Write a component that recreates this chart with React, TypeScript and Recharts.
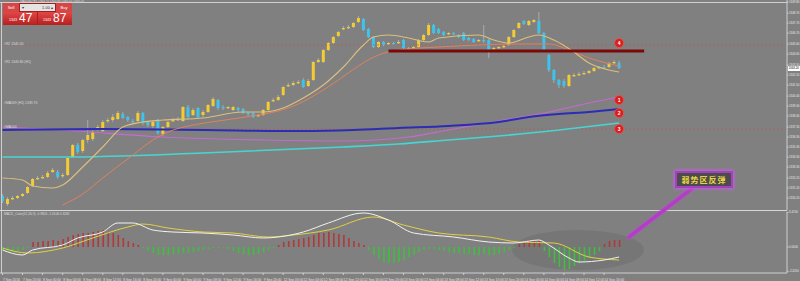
import React from 'react';
import { ComposedChart, Bar, Line, XAxis, YAxis, ReferenceLine, ReferenceDot } from 'recharts';

// ---- candle data (XAUUSD H1) ----
const opens = [1330.4,1329.6,1330.1,1330.2,1330.4,1330.7,1331.4,1332.1,1332.2,1332.3,
1332.8,1332.8,1332.4,1332.5,1334.3,1335.5,1334.9,1336.0,1336.1,1337.1,
1336.9,1337.9,1338.0,1338.1,1338.6,1338.3,1337.9,1337.9,1338.7,1337.8,
1337.4,1338.0,1336.6,1337.3,1337.9,1338.0,1337.9,1339.3,1338.5,1339.2,
1338.5,1338.8,1339.4,1340.0,1339.3,1339.2,1339.0,1339.2,1339.1,1338.7,
1338.7,1338.4,1338.5,1339.0,1339.9,1340.0,1340.5,1341.4,1341.5,1341.7,
1342.0,1341.4,1342.0,1343.8,1343.8,1345.0,1345.7,1346.4,1347.1,1347.2,
1347.3,1347.8,1348.1,1347.1,1346.3,1345.3,1345.8,1345.6,1345.7,1345.7,
1346.0,1345.2,1345.2,1345.3,1346.0,1346.5,1347.5,1347.1,1346.8,1346.6,
1346.7,1346.5,1346.7,1346.2,1346.1,1345.9,1346.0,1346.0,1345.1,1345.2,
1345.3,1345.5,1346.3,1347.2,1347.9,1347.5,1347.8,1347.9,1346.7,1344.5,
1343.0,1342.0,1341.9,1341.4,1342.4,1342.5,1342.6,1342.7,1342.9,1343.2,
1343.3,1343.3,1343.7,1343.7];
const closes = [1329.9,1330.1,1330.2,1330.4,1330.6,1331.3,1332.1,1332.2,1332.3,1332.7,
1333.0,1332.3,1332.5,1334.2,1335.5,1334.8,1336.0,1336.5,1336.8,1337.3,
1337.8,1338.0,1338.3,1338.7,1338.2,1338.0,1337.8,1338.7,1337.7,1337.5,
1337.8,1336.7,1337.3,1337.8,1338.0,1338.1,1339.3,1338.3,1339.0,1338.3,
1338.8,1339.5,1340.1,1339.2,1339.2,1339.3,1339.3,1339.0,1338.7,1338.6,
1338.3,1338.5,1339.0,1339.8,1340.0,1340.3,1341.3,1341.5,1341.7,1341.8,
1341.3,1341.9,1343.8,1344.0,1345.0,1345.7,1346.3,1346.8,1347.2,1347.3,
1347.7,1348.2,1347.0,1346.3,1345.3,1345.8,1345.5,1345.7,1345.6,1345.8,
1345.2,1345.1,1345.3,1346.0,1346.5,1347.5,1346.7,1346.7,1346.5,1346.7,
1346.6,1346.3,1346.0,1346.0,1345.8,1346.0,1345.9,1345.0,1345.2,1345.3,
1345.4,1346.3,1347.0,1347.7,1347.6,1347.9,1348.0,1346.7,1345.0,1343.0,
1342.0,1341.5,1341.4,1342.5,1342.5,1342.6,1342.7,1342.9,1343.2,1343.3,
1343.2,1343.7,1343.8,1343.2];
const highs = [1330.6,1330.3,1330.4,1330.5,1330.7,1331.4,1332.2,1332.4,1332.5,1332.9,
1333.2,1333.0,1332.7,1334.3,1335.6,1335.7,1336.1,1338.0,1337.0,1337.5,
1338.0,1338.2,1338.6,1338.9,1338.8,1338.4,1338.1,1338.9,1338.8,1337.9,
1338.0,1338.1,1337.4,1337.9,1338.2,1338.3,1339.4,1339.5,1339.2,1339.3,
1339.0,1339.6,1340.3,1340.1,1339.5,1339.4,1339.4,1339.3,1339.2,1338.8,
1338.8,1338.6,1339.1,1339.9,1340.2,1340.5,1341.4,1341.7,1341.9,1342.0,
1342.2,1342.1,1343.9,1344.2,1345.1,1345.8,1346.4,1346.9,1347.4,1347.5,
1347.8,1348.4,1348.2,1347.2,1346.4,1345.9,1345.9,1345.8,1345.8,1346.0,
1346.1,1345.3,1345.4,1346.1,1346.6,1347.7,1347.6,1347.2,1346.9,1346.8,
1346.8,1346.6,1346.8,1346.3,1346.2,1346.1,1347.5,1346.1,1345.3,1345.4,
1345.5,1346.4,1347.1,1347.8,1348.0,1348.0,1348.1,1348.8,1346.8,1344.6,
1343.1,1342.1,1342.1,1342.6,1342.7,1342.8,1342.9,1343.0,1343.3,1343.4,
1343.5,1343.8,1344.0,1343.9];
const lows = [1329.7,1329.4,1330.0,1330.1,1330.3,1330.6,1331.3,1332.0,1332.1,1332.2,
1332.7,1332.1,1332.2,1332.4,1334.2,1334.6,1334.7,1335.7,1335.9,1336.9,
1336.8,1337.7,1337.8,1338.0,1338.1,1337.8,1337.6,1337.8,1337.5,1337.3,
1337.2,1336.5,1336.4,1337.2,1337.8,1337.9,1337.8,1338.1,1338.4,1338.1,
1338.3,1338.7,1339.3,1339.0,1339.0,1339.1,1338.9,1338.8,1338.6,1338.4,
1338.2,1338.3,1338.4,1338.9,1339.8,1339.9,1340.4,1341.3,1341.4,1341.6,
1341.2,1341.3,1341.9,1343.7,1343.7,1344.9,1345.6,1346.3,1347.0,1347.1,
1347.2,1347.7,1346.9,1346.2,1345.2,1345.2,1345.4,1345.5,1345.5,1345.6,
1345.1,1345.0,1345.1,1345.2,1345.9,1346.4,1346.6,1346.6,1346.4,1346.5,
1346.5,1346.2,1345.9,1345.9,1345.7,1345.8,1345.7,1344.2,1345.0,1345.1,
1345.2,1345.4,1346.2,1347.1,1347.5,1347.4,1347.7,1346.6,1344.8,1342.8,
1341.7,1341.2,1341.2,1341.3,1342.3,1342.4,1342.5,1342.6,1342.8,1343.1,
1343.1,1343.2,1343.6,1343.1];

// ---- moving averages: [bar index, value] ----
const maFast: [number, number][] = [[0,1332.2],[4,1332.0],[6,1331.4],[10,1331.2],[12,1331.5],[16,1333.3],[20,1335.3],[24,1337.3],[28,1337.8],[32,1338.0],[40,1338.2],[48,1338.8],[52,1338.8],[56,1339.2],[60,1340.2],[64,1341.5],[68,1343.3],[72,1345.5],[74,1346.3],[77,1346.5],[81,1346.2],[85,1345.8],[87,1346.2],[95,1346.5],[98,1346.0],[101,1345.7],[105,1346.3],[107,1346.5],[110,1346.0],[114,1344.8],[117,1343.7],[121,1343.0],[123,1342.8]];
const maMid: [number, number][] = [[12,1329.5],[16,1330.6],[20,1332.2],[26,1334.5],[30,1336.0],[33,1336.8],[38,1337.5],[43,1337.9],[51,1338.5],[55,1338.9],[59,1339.6],[63,1340.7],[67,1342.0],[71,1343.4],[75,1344.5],[79,1345.0],[87,1345.3],[95,1345.5],[103,1345.6],[109,1345.6],[113,1345.0],[117,1344.2],[123,1343.4]];
const maMagenta: [number, number][] = [[0,1337.3],[12,1337.0],[32,1336.3],[52,1336.0],[68,1335.9],[81,1336.3],[89,1337.0],[99,1337.9],[109,1338.8],[117,1339.7],[123,1340.3]];
const maBlue: [number, number][] = [[0,1337.0],[20,1337.1],[40,1337.0],[60,1336.9],[70,1337.0],[79,1337.2],[89,1337.4],[99,1337.8],[105,1338.3],[111,1338.6],[117,1338.8],[123,1339.1]];
const maCyan: [number, number][] = [[0,1334.3],[12,1334.3],[40,1334.7],[68,1335.3],[79,1335.6],[89,1336.0],[99,1336.4],[111,1337.0],[123,1337.7]];

// ---- MACD panel ----
const histogram = [-0.3,-0.4,-0.5,-0.4,-0.3,-0.1,
0.5,0.5,0.6,0.6,0.7,0.6,0.8,1.0,1.2,1.3,1.4,1.4,1.5,1.6,1.7,1.5,1.4,1.2,0.9,0.6,0.4,0.2,
-0.1,-0.4,-0.6,-0.8,-0.8,-0.8,-0.7,-0.7,-0.6,-0.6,-0.5,-0.4,-0.3,-0.2,-0.1,-0.1,-0.1,
-0.2,-0.4,-0.6,-0.7,-0.8,-0.8,-0.7,-0.5,-0.3,-0.1,
0.2,0.5,0.6,0.7,0.8,0.9,1.0,1.2,1.4,1.4,1.5,1.4,1.3,1.2,0.9,0.6,0.4,0.2,
-0.3,-0.8,-1.2,-1.5,-1.6,-1.6,-1.5,-1.3,-1.0,-0.8,-0.5,-0.3,-0.2,
-0.2,-0.3,-0.4,-0.5,-0.6,-0.6,-0.7,-0.7,-0.8,-0.8,-0.7,-0.8,-0.8,-0.7,-0.5,-0.3,-0.1,
0.3,0.5,0.7,0.7,0.6,
-0.4,-1.0,-1.6,-2.0,-2.3,-2.2,-1.9,
-1.6,-1.4,-1.1,-0.8,-0.4,
0.3,0.6,0.7,0.7];
const macdLine: [number, number][] = [[0,-0.3],[4,-0.8],[6,-0.3],[12,0.2],[15,0.9],[20,1.5],[23,2.4],[26,2.4],[30,1.7],[34,1.5],[40,1.4],[46,1.2],[52,0.9],[55,1.0],[60,1.5],[65,2.4],[72,3.4],[77,2.7],[82,1.4],[90,1.0],[97,0.5],[102,0.4],[107,0.7],[109,0.2],[113,-1.1],[115,-1.5],[120,-1.3],[123,-1.0]];
const signalLine: [number, number][] = [[0,-0.1],[5,-0.6],[12,-0.1],[18,0.9],[25,2.0],[28,2.3],[33,1.9],[40,1.5],[46,1.4],[53,1.0],[58,1.2],[65,1.7],[74,3.0],[80,2.2],[87,1.4],[97,1.0],[103,0.5],[110,0.4],[117,-1.0],[123,-1.3]];

// ---- axis ticks / labels ----
const priceTicks = [1349.8,1348.7,1347.7,1346.7,1345.6,1344.6,1343.5,1342.5,1341.5,1340.4,1339.4,1338.4,1337.3,1336.3,1335.3,1334.3,1333.3,1332.2,1331.2,1330.2];
const macdTicks = [3.47, 0, -2.42];
const dateTickIdx = [0,4,8,12,16,20,24,28,32,36,40,44,48,52,56,60,64,68,72,76,80,84,88,92,96,100,104,108,112,116,120];
const dateTickText = ['7 Sep 2016','7 Sep 20:00','8 Sep 00:00','8 Sep 04:00','8 Sep 08:00','8 Sep 12:00','8 Sep 16:00','8 Sep 20:00','9 Sep 00:00','9 Sep 04:00','9 Sep 08:00','9 Sep 12:00','9 Sep 16:00','9 Sep 20:00','12 Sep 00:00','12 Sep 04:00','12 Sep 08:00','12 Sep 12:00','12 Sep 16:00','12 Sep 20:00','13 Sep 00:00','13 Sep 04:00','13 Sep 08:00','13 Sep 12:00','13 Sep 16:00','13 Sep 20:00','14 Sep 00:00','14 Sep 04:00','14 Sep 08:00','14 Sep 12:00','14 Sep 16:00'];
const levelMarkers: { label: string; value: number }[] = [
  { label: '4', value: 1345.7 },
  { label: '1', value: 1340.0 },
  { label: '2', value: 1338.7 },
  { label: '3', value: 1337.1 },
];
const dottedLevels = [1345.5, 1337.1];
const resistance = { from: 77, to: 128, value: 1344.9 };
const sideLabels: { text: string; value: number }[] = [
  { text: '#R2 1345.50', value: 1345.6 },
  { text: '#R1 1343.80 (H1)', value: 1343.8 },
  { text: '#MA169 (H1) 1339.70', value: 1339.7 },
  { text: '#MA144', value: 1337.3 },
];

const SLOTS = 157;
const BULL = '#f2cc30';
const BEAR = '#3cc4ec';
const WICK = '#a9b6c8';
const FONT = '"Liberation Sans", "DejaVu Sans", sans-serif';

const pick = (pairs: [number, number][], i: number): number | null => {
  const p = pairs.find((q) => q[0] === i);
  return p ? p[1] : null;
};

const data = Array.from({ length: SLOTS }, (_, i) => {
  const has = i < opens.length;
  return {
    i,
    o: has ? opens[i] : null,
    c: has ? closes[i] : null,
    h: has ? highs[i] : null,
    l: has ? lows[i] : null,
    range: has ? [lows[i], highs[i]] : null,
    maFast: pick(maFast, i),
    maMid: pick(maMid, i),
    maMagenta: pick(maMagenta, i),
    maBlue: pick(maBlue, i),
    maCyan: pick(maCyan, i),
    hist: has ? histogram[i] : null,
    macd: pick(macdLine, i),
    sig: pick(signalLine, i),
  };
});

const NoDot = () => <g />;

const Candle = (props: any) => {
  const { x, y, width, height, payload } = props;
  if (!payload || payload.o == null) return <g />;
  const top = height < 0 ? y + height : y;
  const full = Math.abs(height);
  const { o, c, h, l } = payload;
  const k = full / (h - l);
  const bodyTop = top + (h - Math.max(o, c)) * k;
  const bodyH = Math.max(Math.abs(o - c) * k, 1.3);
  const cx = x + width / 2;
  return (
    <g>
      <line x1={cx} x2={cx} y1={top} y2={top + full} stroke={WICK} strokeWidth={0.8} />
      <rect x={cx - 1.5} y={bodyTop} width={3} height={bodyH} fill={c >= o ? BULL : BEAR} />
    </g>
  );
};

const HistBar = (props: any) => {
  const { x, y, width, height, payload } = props;
  if (!payload || payload.hist == null) return <g />;
  const top = height < 0 ? y + height : y;
  const col = payload.hist >= 0 ? '#b03a3a' : '#3fbf3f';
  return <rect x={x + width / 2 - 0.8} y={top} width={1.6} height={Math.abs(height)} fill={col} />;
};

const DateTick = (props: any) => {
  const { x, y, payload } = props;
  const k = dateTickIdx.indexOf(payload.value);
  if (k < 0) return <g />;
  return (
    <text x={x + 0.5} y={y + 3.5} fontSize={3.3} fill="#e4e4e4" fontFamily={FONT} textAnchor="start">
      {dateTickText[k]}
    </text>
  );
};

const MarkerLabel = (text: string) => (p: any) => {
  const vb = p.viewBox || {};
  const cx = vb.x + (vb.width || 0) / 2;
  const cy = vb.y + (vb.height || 0) / 2;
  return (
    <text x={cx} y={cy + 1.8} fontSize={5} fontWeight="bold" fill="#ffffff" textAnchor="middle" fontFamily={FONT}>
      {text}
    </text>
  );
};

const lineCommon = { type: 'monotone' as const, dot: NoDot, activeDot: false, connectNulls: true, isAnimationActive: false };

export default function App() {
  const lastClose = closes[closes.length - 1];
  return (
    <div style={{ position: 'absolute', left: 0, top: 0, width: 800, height: 281, background: '#808080', overflow: 'hidden', fontFamily: FONT }}>
      {/* background decorations (behind charts) */}
      <svg width={800} height={281} style={{ position: 'absolute', left: 0, top: 0 }}>
        <ellipse cx={578} cy={250} rx={66} ry={20} fill="#727272" opacity={0.7} />
      </svg>

      {/* main price chart */}
      <div style={{ position: 'absolute', left: 0, top: 0 }}>
        <ComposedChart width={800} height={210} data={data} margin={{ top: 0, right: 0, bottom: 0, left: 0 }}>
          <XAxis dataKey="i" type="category" hide />
          <YAxis
            orientation="right"
            width={13}
            domain={[1329, 1350]}
            allowDataOverflow
            ticks={priceTicks}
            interval={0}
            tickSize={1.5}
            tickMargin={0.5}
            axisLine={{ stroke: '#cfcfcf' }}
            tickLine={{ stroke: '#cfcfcf' }}
            tick={{ fontSize: 2.9, fill: '#e8e8e8', fontFamily: FONT }}
            tickFormatter={(v: number) => v.toFixed(2)}
          />
          {dottedLevels.map((v) => (
            <ReferenceLine key={v} y={v} stroke="#b45a5a" strokeWidth={0.7} strokeDasharray="2 2" ifOverflow="visible" />
          ))}
          <Line dataKey="maCyan" stroke="#46d6d2" strokeWidth={1.6} {...lineCommon} />
          <Line dataKey="maMagenta" stroke="#c46ad2" strokeWidth={1.2} {...lineCommon} />
          <Line dataKey="maBlue" stroke="#2c2cb4" strokeWidth={2} {...lineCommon} />
          <Line dataKey="maMid" stroke="#e0805e" strokeWidth={1} {...lineCommon} />
          <Line dataKey="maFast" stroke="#dcbf7c" strokeWidth={1.1} {...lineCommon} />
          <Bar dataKey="range" barSize={3} shape={<Candle />} isAnimationActive={false} />
          <ReferenceLine
            segment={[{ x: resistance.from, y: resistance.value }, { x: resistance.to, y: resistance.value }]}
            stroke="#7c0808"
            strokeWidth={3}
            ifOverflow="visible"
          />
          {levelMarkers.map((m) => (
            <ReferenceDot key={m.label} x={123} y={m.value} r={4.5} fill="#d42020" stroke="#f05050" strokeWidth={0.8} ifOverflow="visible" label={MarkerLabel(m.label)} />
          ))}
        </ComposedChart>
      </div>

      {/* MACD panel */}
      <div style={{ position: 'absolute', left: 0, top: 210 }}>
        <ComposedChart width={800} height={71} data={data} margin={{ top: 2, right: 0, bottom: 0, left: 0 }}>
          <XAxis
            dataKey="i"
            type="category"
            height={8}
            ticks={dateTickIdx}
            interval={0}
            tickSize={2}
            axisLine={{ stroke: '#cfcfcf' }}
            tickLine={{ stroke: '#cfcfcf' }}
            tick={<DateTick />}
          />
          <YAxis
            orientation="right"
            width={13}
            domain={[-2.6, 3.5]}
            allowDataOverflow
            ticks={macdTicks}
            interval={0}
            tickSize={1.5}
            tickMargin={0.5}
            axisLine={{ stroke: '#cfcfcf' }}
            tickLine={{ stroke: '#cfcfcf' }}
            tick={{ fontSize: 2.9, fill: '#e8e8e8', fontFamily: FONT }}
            tickFormatter={(v: number) => v.toFixed(4)}
          />
          <Bar dataKey="hist" barSize={2} shape={<HistBar />} isAnimationActive={false} />
          <Line dataKey="sig" stroke="#e2d040" strokeWidth={1} {...lineCommon} />
          <Line dataKey="macd" stroke="#f2f2f2" strokeWidth={1} {...lineCommon} />
        </ComposedChart>
      </div>

      {/* frame lines, texts and annotation drawing on top */}
      <svg width={800} height={281} style={{ position: 'absolute', left: 0, top: 0, pointerEvents: 'none' }}>
        <line x1={0} x2={787} y1={2.5} y2={2.5} stroke="#cfcfcf" strokeWidth={1} />
        <line x1={1.5} x2={1.5} y1={2} y2={273} stroke="#cfcfcf" strokeWidth={1} />
        <line x1={0} x2={787} y1={210.5} y2={210.5} stroke="#d6d6d6" strokeWidth={1.2} />
        <text x={20} y={1.9} fontSize={3} fill="#dddddd" fontFamily={FONT}>XAUUSD,H1  1343.70 1343.90 1343.10 1343.20</text>
        {sideLabels.map((s) => (
          <text key={s.text} x={4} y={(1350 - s.value) * 10 + 1.2} fontSize={3.4} fill="#dcdcdc" fontFamily={FONT}>{s.text}</text>
        ))}
        <text x={4} y={215} fontSize={3.2} fill="#dcdcdc" fontFamily={FONT}>MACD_Color(12,26,9) -0.9824 -1.3106 0.3282</text>
        <line x1={694} y1={187} x2={629} y2={237} stroke="#c050d8" strokeWidth={6} opacity={0.35} strokeLinecap="round" />
        <line x1={694} y1={187} x2={629} y2={237} stroke="#b23ec6" strokeWidth={3.5} strokeLinecap="round" />
      </svg>

      {/* current price tag */}
      <div style={{ position: 'absolute', left: 788, top: (1350 - lastClose) * 10 - 2.5, width: 12, height: 5, background: '#ffffff', fontSize: 2.9, lineHeight: '5px', color: '#000', overflow: 'hidden', paddingLeft: 0.5, boxSizing: 'border-box' }}>
        {lastClose.toFixed(2)}
      </div>

      {/* one-click trading panel */}
      <div style={{ position: 'absolute', left: 3, top: 3, width: 69, height: 22, background: '#a81c1c', borderRadius: 1 }}>
        <div style={{ position: 'absolute', left: 0, top: 0, width: 16, height: 9, background: '#d64646', color: '#fff', fontSize: 4, lineHeight: '9px', textAlign: 'center' }}>Sell</div>
        <div style={{ position: 'absolute', left: 17, top: 1, width: 35, height: 7, background: '#e4e4e4', color: '#333', fontSize: 4, lineHeight: '7px', textAlign: 'right', paddingRight: 2, boxSizing: 'border-box' }}>
          <span style={{ position: 'absolute', left: 2 }}>▾</span>1.00 ▴
        </div>
        <div style={{ position: 'absolute', left: 53, top: 0, width: 16, height: 9, background: '#d64646', color: '#fff', fontSize: 4, lineHeight: '9px', textAlign: 'center' }}>Buy</div>
        <div style={{ position: 'absolute', left: 0, top: 9, width: 34, height: 13, background: 'linear-gradient(#e04848, #b82020)', color: '#fff' }}>
          <span style={{ position: 'absolute', left: 6, top: 6, fontSize: 3.6 }}>1343</span>
          <span style={{ position: 'absolute', left: 16, top: -1, fontSize: 12 }}>47</span>
        </div>
        <div style={{ position: 'absolute', left: 35, top: 9, width: 34, height: 13, background: 'linear-gradient(#e04848, #b82020)', color: '#fff' }}>
          <span style={{ position: 'absolute', left: 5, top: 6, fontSize: 3.6 }}>1343</span>
          <span style={{ position: 'absolute', left: 15, top: -1, fontSize: 12 }}>87</span>
        </div>
      </div>

      {/* callout box */}
      <div style={{ position: 'absolute', left: 675, top: 171, width: 58, height: 17, boxSizing: 'border-box', background: '#4c4c4c', border: '2px solid #a640c0', boxShadow: '0 0 3px 1px #c060e0', color: '#e6d448', fontSize: 8, lineHeight: '13px', textAlign: 'center', fontFamily: '"Noto Sans CJK SC", sans-serif', fontWeight: 'bold', letterSpacing: 1 }}>
        弱势区反弹
      </div>
    </div>
  );
}
